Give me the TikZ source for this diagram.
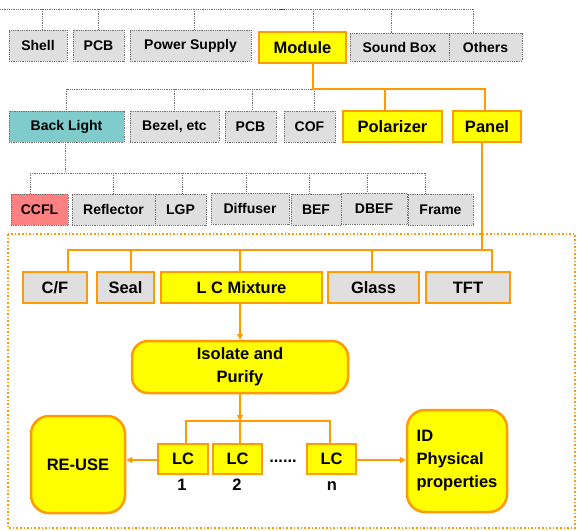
\documentclass[tikz,border=0pt]{standalone}
\usepackage{fontspec}
\setmainfont{Liberation Sans}
\usetikzlibrary{arrows.meta,positioning,calc}
\definecolor{org}{HTML}{FF9A00}
\definecolor{gfill}{HTML}{DFDFDF}
\definecolor{ylw}{HTML}{FFFF00}
\definecolor{teal2}{HTML}{80CCCC}
\definecolor{red2}{HTML}{FF8080}
\definecolor{dotc}{HTML}{707070}
\tikzset{
  gbox/.style={draw=dotc, densely dotted, line width=0.8pt, fill=gfill, inner sep=0pt,
    font=\fontsize{14}{16}\selectfont\bfseries, minimum height=31},
  obox/.style={draw=org, line width=2.5pt, fill=ylw, inner sep=0pt,
    font=\fontsize{16.5}{23}\selectfont\bfseries, minimum height=31},
  ogbox/.style={obox, fill=gfill},
  rbox/.style={obox, rounded corners=16pt, align=center},
  dline/.style={draw=dotc, densely dotted, line width=0.8pt},
  oline/.style={draw=org, line width=2.5pt},
  oarrow/.style={draw=org, line width=1.6pt, -{Triangle[length=6pt,width=6pt]}},
  lbl/.style={font=\fontsize{16.5}{20}\selectfont\bfseries, inner sep=0pt}
}
\begin{document}
\begin{tikzpicture}[x=1pt,y=-1pt]
\useasboundingbox (0,0) rectangle (577,530);
% orange dotted frame
\draw[draw=org, dotted, line width=1.6pt] (8,234) rectangle (575,528);
% row 1
\node[gbox, minimum width=58] (shell) at (38,45.5) {Shell};
\node[gbox, minimum width=51] (pcba) at (98.5,45.5) {PCB};
\node[gbox, minimum width=121] (ps) at (190.5,45.5) {Power Supply};
\node[obox, minimum width=87] (module) at (302.5,47.5) {Module};
\node[gbox, minimum width=99, minimum height=28] (sbox) at (399.5,47) {Sound Box};
\node[gbox, minimum width=73, minimum height=28] (others) at (485.5,47) {Others};
\coordinate (bus1l) at (0,9);
\coordinate (bus1r) at (473,9);
\draw[dline] (bus1l) -- (bus1r);
\draw[line width=1pt, black!70] (279,9) -- (285,9);
\draw[dline] ([xshift=4]shell.north |- bus1l) -- ([xshift=4]shell.north);
\draw[dline] (pcba.north |- bus1l) -- (pcba.north);
\draw[dline] ([xshift=3.5]ps.north |- bus1l) -- ([xshift=3.5]ps.north);
\draw[dline] ([xshift=10.5]module.north |- bus1l) -- ([xshift=10.5]module.north);
\draw[dline] ([xshift=-8.5]sbox.north |- bus1l) -- ([xshift=-8.5]sbox.north);
\draw[dline] ([xshift=-12.5]others.north |- bus1l) -- ([xshift=-12.5]others.north);
% row 2
\node[gbox, fill=teal2, minimum width=115] (bl) at (66.5,126.5) {Back Light};
\node[gbox, minimum width=89] (bezel) at (174.5,126.5) {Bezel, etc};
\node[gbox, minimum width=51] (pcbb) at (250.5,126.5) {PCB};
\node[gbox, minimum width=51] (cof) at (309.5,126.5) {COF};
\node[obox, minimum width=99] (pol) at (392.5,126.5) {Polarizer};
\node[obox, minimum width=68] (panel) at (487,126.5) {Panel};
\coordinate (bus2) at (313,89);
\draw[dline] (bl.north |- bus2) -- (bus2);
\draw[dline] (bl.north |- bus2) -- (bl.north);
\draw[dline] (bezel.north |- bus2) -- (bezel.north);
\draw[dline] ([xshift=1.5]pcbb.north |- bus2) -- ([xshift=1.5]pcbb.north);
\draw[dline] ([xshift=4.5]cof.north |- bus2) -- ([xshift=4.5]cof.north);
\draw[oline] ([xshift=10.5]module.south) -- ([xshift=10.5]module.south |- bus2) -| ([xshift=-2]panel.north);
\draw[oline] ([xshift=-7.5]pol.north |- bus2) -- ([xshift=-7.5]pol.north);
% row 3
\node[gbox, fill=red2, minimum width=57] (ccfl) at (39.5,209.5) {CCFL};
\node[gbox, minimum width=83] (refl) at (113.5,209.5) {Reflector};
\node[gbox, minimum width=51] (lgp) at (180.5,209.5) {LGP};
\node[gbox, minimum width=78] (diff) at (250,208.5) {Diffuser};
\node[gbox, minimum width=50] (bef) at (316,209.5) {BEF};
\node[gbox, minimum width=66] (dbef) at (374,208.5) {DBEF};
\node[gbox, minimum width=65] (frame) at (440.5,209.5) {Frame};
\coordinate (bus3) at (0,173);
\draw[dline] ([xshift=-1.5]bl.south) -- ([xshift=-1.5]bl.south |- bus3);
\draw[dline] ([xshift=-9.5]ccfl.north |- bus3) -- ([xshift=-15.5]frame.north |- bus3);
\draw[dline] ([xshift=-9.5]ccfl.north |- bus3) -- ([xshift=-9.5]ccfl.north);
\draw[dline] (refl.north |- bus3) -- (refl.north);
\draw[dline] ([xshift=1.5]lgp.north |- bus3) -- ([xshift=1.5]lgp.north);
\draw[dline] ([xshift=-4]diff.north |- bus3) -- ([xshift=-4]diff.north);
\draw[dline] ([xshift=-7]bef.north |- bus3) -- ([xshift=-7]bef.north);
\draw[dline] ([xshift=-7]dbef.north |- bus3) -- ([xshift=-7]dbef.north);
\draw[dline] ([xshift=-15.5]frame.north |- bus3) -- ([xshift=-15.5]frame.north);
% row 4
\node[ogbox, minimum width=64] (cf) at (55,287.5) {C/F};
\node[ogbox, minimum width=57] (seal) at (125.5,287.5) {Seal};
\node[obox, minimum width=161] (lcm) at (241.5,287.5) {L C Mixture};
\node[ogbox, minimum width=91] (glass) at (373.5,287.5) {Glass};
\node[ogbox, minimum width=84] (tft) at (468,287.5) {TFT};
\coordinate (bus4) at (0,250);
\draw[oline] ([xshift=-5]panel.south) -- ([xshift=-5]panel.south |- bus4);
\draw[oline] ([xshift=13]cf.north) |- ([xshift=24]tft.north |- bus4) -- ([xshift=24]tft.north);
\draw[oline] ([xshift=5.5]seal.north |- bus4) -- ([xshift=5.5]seal.north);
\draw[oline] ([xshift=-1.5]lcm.north |- bus4) -- ([xshift=-1.5]lcm.north);
\draw[oline] ([xshift=-1.5]glass.north |- bus4) -- ([xshift=-1.5]glass.north);
% isolate
\node[rbox, minimum width=216, minimum height=52, font=\fontsize{16.5}{23}\selectfont\bfseries] (iso) at (240,367) {Isolate and\\Purify};
\draw[oarrow] ([xshift=-1.5]lcm.south) -- ([xshift=-1.5]lcm.south |- iso.north);
% LC nodes
\node[obox, minimum width=50, minimum height=30] (lc1) at (183,459) {LC};
\node[obox, minimum width=49, minimum height=30] (lc2) at (237.5,459) {LC};
\node[obox, minimum width=49, minimum height=30] (lcn) at (331.5,459) {LC};
\node[lbl] (dots) at (283,461) {......};
\node[lbl, anchor=base] (n1) at (182,490) {1};
\node[lbl, anchor=base] (n2) at (237,490) {2};
\node[lbl, anchor=base] (nn) at (332,490) {n};
\coordinate (bus5) at (240,421);
\draw[oline] ([xshift=3]lc1.north) |- ([xshift=-1.5]lcn.north |- bus5) -- ([xshift=-1.5]lcn.north);
\draw[oline] ([xshift=2.5]lc2.north |- bus5) -- ([xshift=2.5]lc2.north);
\draw[oarrow] (iso.south) -- (bus5);
% end boxes
\node[rbox, minimum width=94, minimum height=97, rounded corners=18pt] (reuse) at (78,464.5) {RE-USE};
\node[rbox, minimum width=100, minimum height=102, rounded corners=18pt, align=left] (idp) at (457,461) {ID\\Physical\\properties};
\draw[oarrow] ([yshift=-1]lc1.west) -- ([yshift=-1]lc1.west -| reuse.east);
\draw[oarrow] ([yshift=-1]lcn.east) -- ([yshift=-1]lcn.east -| idp.west);
\end{tikzpicture}
\end{document}
